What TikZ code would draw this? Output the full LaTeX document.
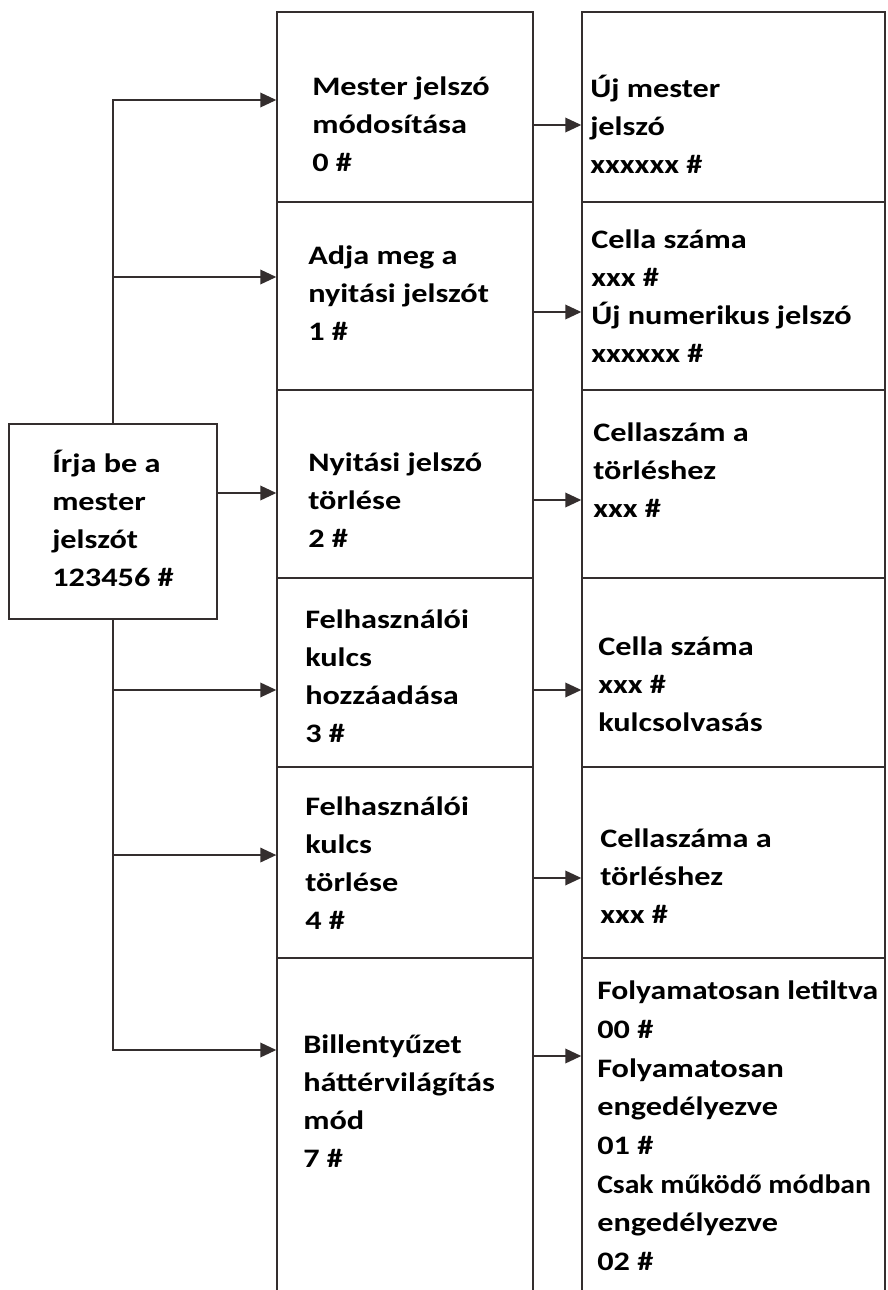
\documentclass[tikz,border=0pt]{standalone}
\usepackage{fontspec}
\usepackage{graphicx}
\setmainfont{Carlito}[FakeStretch=1.21]
\usetikzlibrary{arrows.meta}
\definecolor{linegray}{RGB}{52,46,46}
\tikzset{
  cell/.style={draw=linegray, line width=1.1pt, minimum width=192pt, inner sep=0pt},
  rcell/.style={cell, minimum width=227.25pt},
  txt/.style={anchor=west, align=left, inner sep=0pt, font=\bfseries\fontsize{20pt}{28.5pt}\selectfont},
  arr/.style={draw=linegray, line width=1.1pt, -{Triangle[length=12pt,width=11pt]}},
}

\begin{document}
\begin{tikzpicture}[x=0.75pt,y=-0.75pt]
    \clip (0,0) rectangle (888,1290);
    \fill[white] (0,0) rectangle (888,1290);
    %% start box
    \node[cell, minimum width=156pt, minimum height=146.25pt] (lb) at (113,521.5) {};
    \node[txt] (lbt) at (52,518) {Írja be a\\mester\\jelszót\\123456 \#};
    %% menu column
    \node[cell, minimum height=142.5pt] (m0) at (405,107) {};
    \node[cell, minimum height=141pt] (m1) at (405,296) {};
    \node[cell, minimum height=141pt] (m2) at (405,484) {};
    \node[cell, minimum height=141.75pt] (m3) at (405,672.5) {};
    \node[cell, minimum height=143.25pt] (m4) at (405,862.5) {};
    \node[cell, minimum height=256.5pt] (m7) at (405,1129) {};
    \node[txt] (t0) at (312,124) {Mester jelszó\\módosítása\\0 \#};
    \node[txt] (t1) at (308,293) {Adja meg a\\nyitási jelszót\\1 \#};
    \node[txt] (t2) at (308,500) {Nyitási jelszó\\törlése\\2 \#};
    \node[txt] (t3) at (305,676) {Felhasználói\\kulcs\\hozzáadása\\3 \#};
    \node[txt] (t4) at (305,863) {Felhasználói\\kulcs\\törlése\\4 \#};
    \node[txt] (t7) at (303,1101) {Billentyűzet\\háttérvilágítás\\mód\\7 \#};
    %% input column
    \node[rcell, minimum height=142.5pt] (r0) at (733.5,107) {};
    \node[rcell, minimum height=141pt] (r1) at (733.5,296) {};
    \node[rcell, minimum height=141pt] (r2) at (733.5,484) {};
    \node[rcell, minimum height=141.75pt] (r3) at (733.5,672.5) {};
    \node[rcell, minimum height=143.25pt] (r4) at (733.5,862.5) {};
    \node[rcell, minimum height=256.5pt] (r7) at (733.5,1129) {};
    \node[txt] (s0) at (590,124) {Új mester\\jelszó\\xxxxxx \#};
    \node[txt] (s1) at (591,296) {Cella száma\\xxx \#\\Új numerikus jelszó\\xxxxxx \#};
    \node[txt] (s2) at (593,470) {Cellaszám a\\törléshez\\xxx \#};
    \node[txt] (s3) at (598,684) {Cella száma\\xxx \#\\kulcsolvasás};
    \node[txt] (s4) at (600,876) {Cellaszáma a\\törléshez\\xxx \#};
    \node[txt, font=\bfseries\fontsize{20pt}{29pt}\selectfont] (s7) at (597,1126)
        {\scalebox{0.98}[1]{Folyamatosan letiltva}\\00 \#\\Folyamatosan\\engedélyezve\\01 \#\\\scalebox{0.92}[1]{Csak működő módban}\\engedélyezve\\02 \#};
    %% arrow ends (trial and error)
    \coordinate (m0in) at ([yshift=5.25pt]m0.west);
    \coordinate (m1in) at ([yshift=14.25pt]m1.west);
    \coordinate (m2in) at ([yshift=-6.75pt]m2.west);
    \coordinate (m3in) at ([yshift=-13.1pt]m3.west);
    \coordinate (m4in) at ([yshift=5.6pt]m4.west);
    \coordinate (m7in) at ([yshift=59.25pt]m7.west);
    \coordinate (r0in) at ([yshift=-13.5pt]r0.west);
    \coordinate (r1in) at ([yshift=-12pt]r1.west);
    \coordinate (r2in) at ([yshift=-12pt]r2.west);
    \coordinate (r3in) at ([yshift=-13.1pt]r3.west);
    \coordinate (r4in) at ([yshift=-11.6pt]r4.west);
    \coordinate (r7in) at ([yshift=54.75pt]r7.west);
    %% start box to menu
    \draw[arr] (lb.north) |- (m0in);
    \draw[arr] (lb.north |- m1in) -- (m1in);
    \draw[arr] (lb.east |- m2in) -- (m2in);
    \draw[arr] (lb.south |- m3in) -- (m3in);
    \draw[arr] (lb.south |- m4in) -- (m4in);
    \draw[arr] (lb.south) |- (m7in);
    %% menu to input
    \draw[arr] (m0.east |- r0in) -- (r0in);
    \draw[arr] (m1.east |- r1in) -- (r1in);
    \draw[arr] (m2.east |- r2in) -- (r2in);
    \draw[arr] (m3.east |- r3in) -- (r3in);
    \draw[arr] (m4.east |- r4in) -- (r4in);
    \draw[arr] (m7.east |- r7in) -- (r7in);
\end{tikzpicture}
\end{document}
